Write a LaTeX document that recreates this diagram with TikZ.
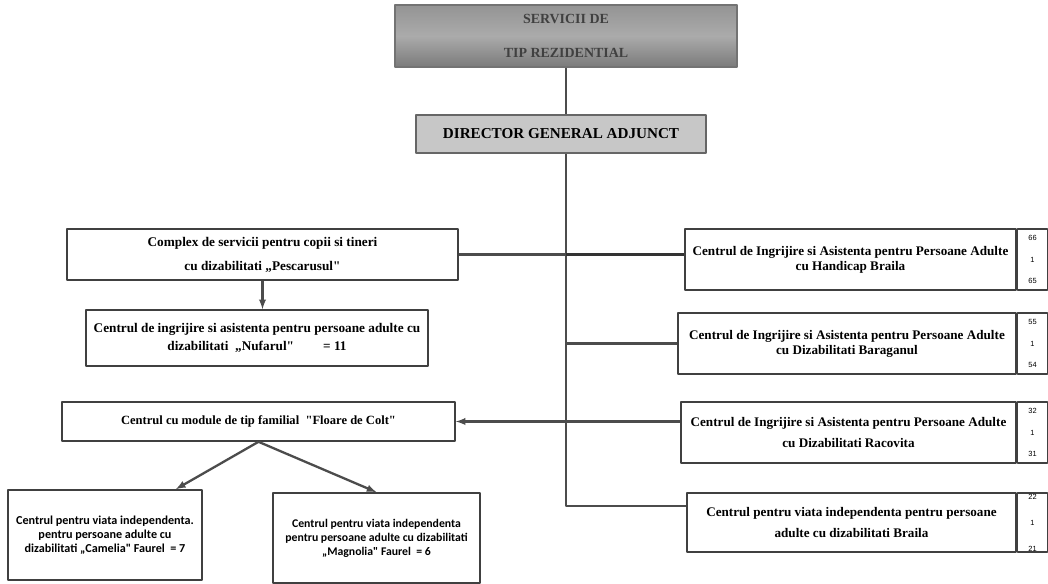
\documentclass[tikz,border=0pt]{standalone}
\usepackage{fontspec}
\setmainfont{Liberation Serif}[Ligatures=TeXOff]
\newfontfamily\cellfont{Liberation Sans}
\newfontfamily\smallsans{Carlito}[Ligatures=TeXOff]
\usetikzlibrary{positioning,calc}

\begin{document}
\begin{tikzpicture}[>=latex,line join=bevel,x=1bp,y=1bp,
  box/.style={draw=black!75,line width=1.6bp,fill=white,inner sep=2bp,align=center,
    font=\bfseries\fontsize{13.3}{15}\selectfont},
  sidebox/.style={box,minimum height=61bp},
  cellbox/.style={draw=black!75,line width=1.4bp,fill=white,minimum width=30bp,inner sep=0pt,
    align=center,font=\cellfont\fontsize{7.5}{22}\selectfont},
  unitbox/.style={box,minimum height=90bp,font=\smallsans\bfseries\fontsize{12.2}{14}\selectfont},
  link/.style={draw=black!70,line width=2.3bp}]
  \useasboundingbox (0,0) rectangle (1048,584);
%%
  % Node: servicii
  \node[draw=black!55,line width=1.4bp,top color=black!42,bottom color=black!52,middle color=black!33,
    minimum width=342bp,minimum height=62bp,align=center,text=black!75,
    font=\bfseries\fontsize{14}{14}\selectfont] (servicii) at (566,548) {SERVICII DE\\[20bp]TIP REZIDENTIAL};
  % Node: director
  \node[draw=black!60,line width=1.6bp,fill=black!22,minimum width=290bp,minimum height=38bp,
    font=\bfseries\fontsize{15.2}{16}\selectfont] (director) at (561,450) {DIRECTOR GENERAL ADJUNCT};
  \coordinate (trunk) at (566,78);
  % Node: complex
  \node[box,minimum width=391bp,minimum height=51bp,font=\bfseries\fontsize{13.3}{24}\selectfont]
    (complex) at (262.5,329.5) {Complex de servicii pentru copii si tineri\\cu dizabilitati „Pescarusul"};
  % Node: nufarul
  \node[box,minimum width=342bp,minimum height=56bp,font=\bfseries\fontsize{13.3}{18}\selectfont]
    (nufarul) at (257,246) {Centrul de ingrijire si asistenta pentru persoane adulte cu\\dizabilitati\ \ „Nufarul"\hspace{2.2em}= 11};
  % Node: floare
  \node[box,minimum width=393bp,minimum height=39bp,font=\bfseries\fontsize{12.6}{15}\selectfont] (floare) at (258.5,162.5)
    {Centrul cu module de tip familial\ \ "Floare de Colt"};
  % Node: camelia
  \node[unitbox,minimum width=194bp] (camelia) at (105,49)
    {Centrul pentru viata independenta.\\pentru persoane adulte cu\\dizabilitati „Camelia" Faurel\ \ = 7};
  % Node: magnolia
  \node[unitbox,minimum width=207bp,font=\smallsans\bfseries\fontsize{11.8}{14}\selectfont] (magnolia) at (376.5,46)
    {Centrul pentru viata independenta\\pentru persoane adulte cu dizabilitati\\„Magnolia" Faurel\ \ = 6};
  % Node: handicap
  \node[sidebox,minimum width=331bp,font=\bfseries\fontsize{13.2}{15}\selectfont] (handicap) at (850.5,324.5)
    {Centrul de Ingrijire si Asistenta pentru Persoane Adulte\\cu Handicap Braila};
  \node[cellbox,minimum height=61bp,right=0pt of handicap] (handicapnr) {66\\1\\65};
  % Node: baraganul
  \node[sidebox,minimum width=338bp,font=\bfseries\fontsize{13.2}{15}\selectfont] (baraganul) at (847,240.5)
    {Centrul de Ingrijire si Asistenta pentru Persoane Adulte\\cu Dizabilitati Baraganul};
  \node[cellbox,minimum height=61bp,right=0pt of baraganul] (baraganulnr) {55\\1\\54};
  % Node: racovita
  \node[sidebox,minimum width=335bp,font=\bfseries\fontsize{13.2}{22}\selectfont] (racovita) at (848.5,151.5)
    {Centrul de Ingrijire si Asistenta pentru Persoane Adulte\\cu Dizabilitati Racovita};
  \node[cellbox,minimum height=61bp,right=0pt of racovita] (racovitanr) {32\\1\\31};
  % Node: pensiune
  \node[box,minimum width=329bp,minimum height=59bp,font=\bfseries\fontsize{13.2}{21}\selectfont] (pensiune) at (851.5,61.5)
    {Centrul pentru viata independenta pentru persoane\\adulte cu dizabilitati Braila};
  \node[cellbox,minimum height=59bp,right=0pt of pensiune,font=\cellfont\fontsize{7.5}{26}\selectfont] (pensiunenr) {22\\1\\21};
%%
  % Edge: servicii -> director
  \draw[link] (servicii.south) -- (servicii.south |- director.north);
  % Edge: director -> trunk -> pensiune
  \draw[link] (servicii.south |- director.south) -- (trunk) -- (trunk -| pensiune.west);
  % Edge: trunk -> complex, handicap
  \draw[link] (complex.east) -- (complex.east -| trunk);
  \draw[link,line width=3.6bp,draw=black!80] (complex.east -| trunk) -- (complex.east -| handicap.west);
  % Edge: trunk -> baraganul
  \draw[link] (baraganul.west -| trunk) -- (baraganul.west);
  % Edge: trunk -> floare, racovita
  \draw[link,->] (floare.east -| trunk) -- (floare.east);
  \draw[link] (floare.east -| trunk) -- (floare.east -| racovita.west);
  % Edge: complex -> nufarul
  \draw[link,->] (complex.south) -- (complex.south |- nufarul.north);
  % Edge: floare -> camelia, magnolia
  \draw[link,->] (floare.south) -- ([xshift=-27bp]camelia.north east);
  \draw[link,->] (floare.south) -- (magnolia.north);
%
\end{tikzpicture}
\end{document}
